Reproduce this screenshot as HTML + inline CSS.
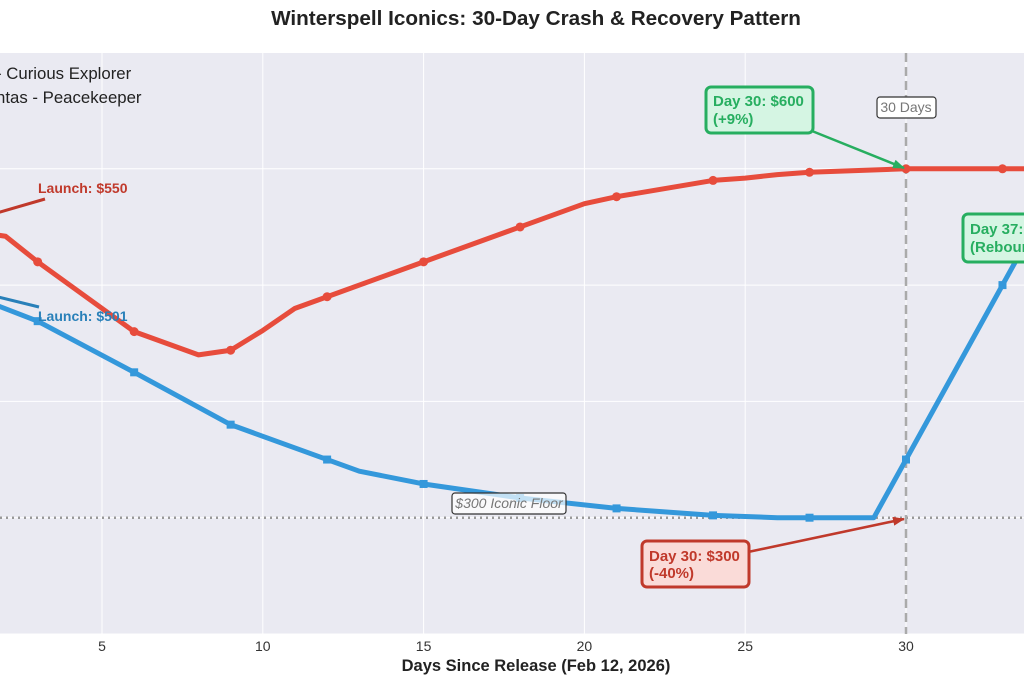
<!DOCTYPE html>
<html><head><meta charset="utf-8"><style>
body{margin:0;background:#fff;}
svg{display:block;font-family:"Liberation Sans",sans-serif;}
</style></head><body>
<svg id="chart" width="1024" height="684" viewBox="0 0 1024 684" xmlns="http://www.w3.org/2000/svg">
<text x="536" y="25" text-anchor="middle" font-size="20.7" font-weight="bold" fill="#222">Winterspell Iconics: 30-Day Crash &amp; Recovery Pattern</text>
<rect x="0" y="53" width="1024" height="581" fill="#eaeaf2"/>
<g id="grid"></g>
<g id="series"></g>
<g id="ann"></g>
<text x="536" y="671" text-anchor="middle" font-size="16.5" font-weight="bold" fill="#222">Days Since Release (Feb 12, 2026)</text>
<text x="-4" y="79" font-size="16.8" fill="#222">- Curious Explorer</text>
<text x="-4" y="103" font-size="16.8" fill="#222">ntas - Peacekeeper</text>
</svg>
<script>
const redDays=[0,2,3,6,8,9,10,11,12,15,18,20,21,24,25,26,27,30,33,36];
const redVals=[550,542,520,460,440,444,461,480,490,520,550,570,576,590,592,595,597,600,600,600];
const redMarked=[3,6,9,12,15,18,21,24,27,30,33];
const blueDays=[0,3,6,9,12,13,15,18,21,24,26,27,29,30,33,36];
const blueVals=[501,469,425,380,350,340,329,317,308,302,300,300,300,350,500,650];
const blueMarked=[3,6,9,12,15,18,21,24,27,30,33];
const xTicks=[5,10,15,20,25,30];
const yGrid=[200,300,400,500,600,700];
const X=d=>-58.8+d*32.16;
const Y=v=>634-(v-200)*1.163;
const NS="http://www.w3.org/2000/svg";
function mk(t,a,p){const e=document.createElementNS(NS,t);for(const k in a)e.setAttribute(k,a[k]);(p||document.getElementById('chart')).appendChild(e);return e;}
const g=document.getElementById('grid');
yGrid.forEach(v=>{const l=mk('line',{x1:0,x2:1024,y1:Y(v),y2:Y(v),stroke:'#fff','stroke-width':1},g);

});
xTicks.forEach(d=>{const l=mk('line',{x1:X(d),x2:X(d),y1:53,y2:634,stroke:'#fff','stroke-width':1},g);


const t=mk('text',{x:X(d),y:651,'text-anchor':'middle','font-size':14,fill:'#333'},g);t.textContent=d;

});
const s=document.getElementById('series');
const fl=mk('line',{x1:0,x2:1024,y1:Y(300),y2:Y(300),stroke:'#999','stroke-width':2.5,'stroke-dasharray':'2,4'},s);


const vl=mk('line',{x1:X(30),x2:X(30),y1:53,y2:634,stroke:'#aaa','stroke-width':2.5,'stroke-dasharray':'9,5'},s);


function series(days,vals,marked,col,name,sq){
 const p=mk('polyline',{points:days.map((d,i)=>X(d)+','+Y(vals[i])).join(' '),fill:'none',stroke:col,'stroke-width':5,'stroke-linejoin':'round'},s);
 
 
 days.forEach((d,i)=>{if(!marked.includes(d))return;
  let m;if(sq)m=mk('rect',{x:X(d)-4,y:Y(vals[i])-4,width:8,height:8,fill:col},s);
  else m=mk('circle',{cx:X(d),cy:Y(vals[i]),r:4.5,fill:col},s);
  
  });
}
series(redDays,redVals,redMarked,'#e74c3c','explorer',false);
series(blueDays,blueVals,blueMarked,'#3498db','peacekeeper',true);
const a=document.getElementById('ann');
a.innerHTML=`
<defs><marker id="ag" markerUnits="userSpaceOnUse" markerWidth="12" markerHeight="9" refX="11" refY="4.5" orient="auto"><path d="M0,0L12,4.5L0,9z" fill="#27ae60"/></marker>
<marker id="ar" markerUnits="userSpaceOnUse" markerWidth="12" markerHeight="9" refX="11" refY="4.5" orient="auto"><path d="M0,0L12,4.5L0,9z" fill="#c0392b"/></marker></defs>
<line x1="45" y1="199" x2="-10" y2="215" stroke="#c0392b" stroke-width="3"/>
<text x="38" y="193" font-size="14" font-weight="bold" fill="#c0392b">Launch: $550</text>
<line x1="39" y1="307" x2="-10" y2="295" stroke="#2980b9" stroke-width="3"/>
<text x="38" y="321" font-size="14" font-weight="bold" fill="#2980b9">Launch: $501</text>
<line x1="812" y1="131" x2="904" y2="168" stroke="#27ae60" stroke-width="2.5" marker-end="url(#ag)"/>
<g><rect x="706" y="87" width="107" height="46" rx="5" fill="#d5f5e3" stroke="#27ae60" stroke-width="3"/>
<text x="713" y="106" font-size="15" font-weight="bold" fill="#27ae60">Day 30: $600</text><text x="713" y="124" font-size="15" font-weight="bold" fill="#27ae60">(+9%)</text></g>
<g><rect x="877" y="97" width="59" height="21" rx="3" fill="#fff" stroke="#333" stroke-width="1.2"/>
<text x="906" y="112" text-anchor="middle" font-size="14" fill="#777">30 Days</text></g>
<g><rect x="963" y="214" width="80" height="48" rx="5" fill="#d5f5e3" stroke="#27ae60" stroke-width="3"/>
<text x="970" y="234" font-size="15" font-weight="bold" fill="#27ae60">Day 37:</text><text x="970" y="252" font-size="15" font-weight="bold" fill="#27ae60">(Rebound)</text></g>
<line x1="748" y1="552" x2="904" y2="519" stroke="#c0392b" stroke-width="2.5" marker-end="url(#ar)"/>
<g><rect x="642" y="541" width="107" height="46" rx="5" fill="#fadbd8" stroke="#c0392b" stroke-width="3"/>
<text x="649" y="561" font-size="15" font-weight="bold" fill="#c0392b">Day 30: $300</text><text x="649" y="578" font-size="15" font-weight="bold" fill="#c0392b">(-40%)</text></g>
<g><rect x="452" y="493" width="114" height="21" rx="3" fill="#fff" fill-opacity="0.7" stroke="#333" stroke-width="1.2"/>
<text x="509" y="508" text-anchor="middle" font-size="14" font-style="italic" fill="#777">$300 Iconic Floor</text></g>`;
</script>
</body></html>
